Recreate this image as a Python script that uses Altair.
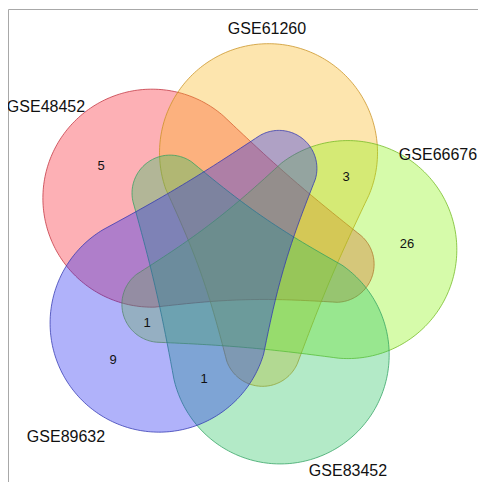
import math
import altair as alt

# ---- data ----
set_names = ["GSE48452", "GSE61260", "GSE66676", "GSE83452", "GSE89632"]
count_values = ["5", "3", "26", "1", "9", "1"]

# ---- styles / layout ----
fill_colors = ["#F91D2C", "#F9B517", "#8AF40C", "#26C35F", "#1D23F1"]
stroke_colors = ["#C0303C", "#C89020", "#70B820", "#30A060", "#3035B0"]
set_label_xy = [(46, 107), (267, 29), (438, 155), (348, 471), (66, 437)]
count_xy = [(101, 166), (346, 177), (407, 244), (147, 323), (113, 360), (204, 379)]

# geometry of the symmetric 5-set diagram (screen pixels)
CX, CY = 241.5, 255.7
BASE_ANGLE = 212.7
D1, R1 = 106.5, 109.0     # main circle
D2, R2 = 95.0, 38.0       # lobe
LOBE_OFFSET = 152.5
DENT_TOP, DENT_BOT = 2.5, 5.0


def shape_ring(i):
    th = math.radians(BASE_ANGLE + 72 * i)
    ph = th + math.radians(LOBE_OFFSET)
    c1 = (CX + D1 * math.cos(th), CY + D1 * math.sin(th))
    c2 = (CX + D2 * math.cos(ph), CY + D2 * math.sin(ph))
    dx, dy = c2[0] - c1[0], c2[1] - c1[1]
    d = math.hypot(dx, dy)
    a = math.atan2(dy, dx)
    b = math.asin((R1 - R2) / d)
    n1 = a + b - math.pi / 2
    n2 = a - b + math.pi / 2
    pts = []

    def arc(c, r, t0, t1, n):
        for k in range(n + 1):
            t = t0 + (t1 - t0) * k / n
            pts.append([c[0] + r * math.cos(t), c[1] + r * math.sin(t)])

    def seg(p, q, n, dent, nrm):
        for k in range(1, n):
            s = k / n
            off = dent * math.sin(math.pi * s)
            pts.append([p[0] + s * (q[0] - p[0]) - off * math.cos(nrm),
                        p[1] + s * (q[1] - p[1]) - off * math.sin(nrm)])

    arc(c1, R1, n2, n1 + 2 * math.pi, 160)
    p = (c1[0] + R1 * math.cos(n1), c1[1] + R1 * math.sin(n1))
    q = (c2[0] + R2 * math.cos(n1), c2[1] + R2 * math.sin(n1))
    seg(p, q, 40, DENT_TOP, n1)
    arc(c2, R2, n1, n2, 60)
    p = (c2[0] + R2 * math.cos(n2), c2[1] + R2 * math.sin(n2))
    q = (c1[0] + R1 * math.cos(n2), c1[1] + R1 * math.sin(n2))
    seg(p, q, 40, DENT_BOT, n2)
    pts.append(pts[0])
    return pts


features = [
    {"type": "Feature",
     "geometry": {"type": "Polygon", "coordinates": [shape_ring(i)]},
     "properties": {"name": name}}
    for i, name in enumerate(set_names)
]

frame = [{"type": "Feature",
          "geometry": {"type": "LineString",
                       "coordinates": [[8.5, 498], [8.5, 9.5], [495, 9.5]]},
          "properties": {"name": "frame"}}]

set_labels = [{"name": n, "x": xy[0], "y": xy[1]} for n, xy in zip(set_names, set_label_xy)]
count_labels = [{"v": v, "x": xy[0], "y": xy[1]} for v, xy in zip(count_values, count_xy)]

proj = alt.Projection(type="identity", scale=1, translate=[-8, -8])

shapes = alt.Chart(alt.Data(values=features)).mark_geoshape(
    fillOpacity=0.35, strokeOpacity=0.75, strokeWidth=1
).encode(
    fill=alt.Color("properties.name:N",
                   scale=alt.Scale(domain=set_names, range=fill_colors), legend=None),
    stroke=alt.Stroke("properties.name:N",
                      scale=alt.Scale(domain=set_names, range=stroke_colors), legend=None),
).properties(projection=proj)

border = alt.Chart(alt.Data(values=frame)).mark_geoshape(
    filled=False, stroke="#A8A8A8", strokeWidth=1
).properties(projection=proj)

names = alt.Chart(alt.Data(values=set_labels)).mark_text(
    font="Liberation Sans", fontSize=16, color="#111111", align="center", baseline="middle"
).encode(
    longitude="x:Q", latitude="y:Q", text="name:N"
).properties(projection=proj)

counts = alt.Chart(alt.Data(values=count_labels)).mark_text(
    font="Liberation Sans", fontSize=13, color="#111111", align="center", baseline="middle"
).encode(
    longitude="x:Q", latitude="y:Q", text="v:N"
).properties(projection=proj)

chart = alt.layer(border, shapes, names, counts).properties(
    width=470, height=474, autosize=alt.AutoSizeParams(type="none"), padding=0
).configure_view(stroke=None)

chart.save("out.html", embed_options={"renderer": "svg", "actions": False})
